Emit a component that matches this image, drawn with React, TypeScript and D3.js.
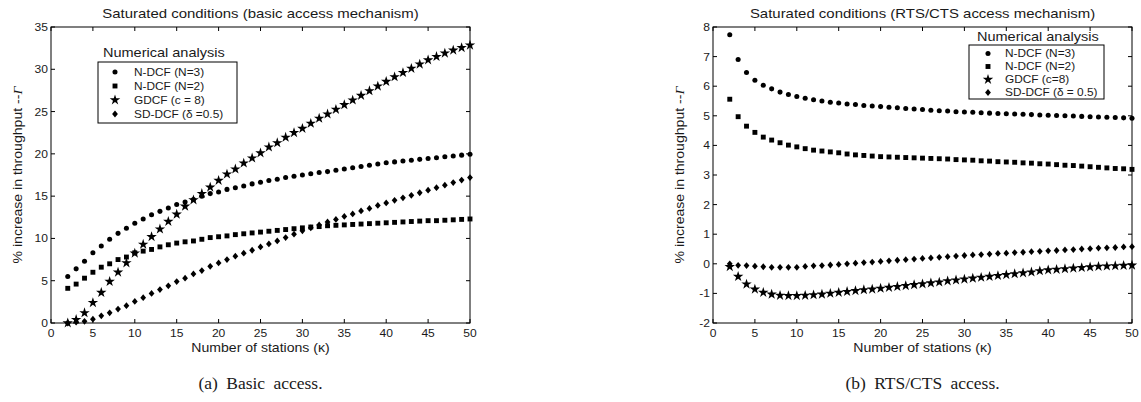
import React from "react";
import * as d3 from "d3";

const stations = [2, 3, 4, 5, 6, 7, 8, 9, 10, 11, 12, 13, 14, 15, 16, 17, 18, 19, 20, 21, 22, 23, 24, 25, 26, 27, 28, 29, 30, 31, 32, 33, 34, 35, 36, 37, 38, 39, 40, 41, 42, 43, 44, 45, 46, 47, 48, 49, 50];

const basicN3 = [5.5, 6.4, 7.3, 8.3, 9.1, 9.9, 10.6, 11.2, 11.8, 12.3, 12.8, 13.2, 13.6, 14.0, 14.3, 14.6, 15.0, 15.3, 15.5, 15.8, 16.0, 16.2, 16.45, 16.65, 16.85, 17.0, 17.2, 17.35, 17.5, 17.65, 17.8, 17.9, 18.05, 18.2, 18.35, 18.5, 18.65, 18.8, 18.95, 19.05, 19.15, 19.25, 19.35, 19.45, 19.55, 19.65, 19.75, 19.85, 19.95];
const basicN2 = [4.1, 4.6, 5.3, 6.0, 6.6, 7.0, 7.5, 7.8, 8.3, 8.5, 8.7, 9.0, 9.25, 9.45, 9.6, 9.7, 9.9, 10.1, 10.2, 10.3, 10.45, 10.55, 10.65, 10.75, 10.85, 10.95, 11.05, 11.15, 11.25, 11.35, 11.4, 11.5, 11.55, 11.6, 11.65, 11.7, 11.75, 11.8, 11.85, 11.9, 11.95, 12.0, 12.05, 12.1, 12.1, 12.15, 12.2, 12.25, 12.3];
const basicGDCF = [0.0, 0.4, 1.2, 2.4, 3.6, 4.9, 6.0, 7.1, 8.25, 9.3, 10.2, 11.1, 12.0, 12.85, 13.8, 14.55, 15.3, 16.05, 16.85, 17.6, 18.2, 18.9, 19.5, 20.1, 20.8, 21.3, 21.95, 22.5, 23.0, 23.6, 24.2, 24.7, 25.25, 25.8, 26.35, 26.9, 27.45, 28.0, 28.55, 29.1, 29.6, 30.1, 30.6, 31.1, 31.5, 31.9, 32.25, 32.55, 32.85];
const basicSD = [0.0, 0.1, 0.2, 0.45, 0.85, 1.2, 1.65, 2.05, 2.55, 3.0, 3.5, 3.95, 4.4, 4.9, 5.3, 5.8, 6.2, 6.7, 7.1, 7.5, 7.9, 8.25, 8.6, 9.0, 9.35, 9.7, 10.1, 10.5, 10.9, 11.25, 11.6, 11.95, 12.25, 12.6, 12.9, 13.25, 13.55, 13.9, 14.2, 14.5, 14.8, 15.1, 15.4, 15.7, 16.0, 16.3, 16.6, 16.9, 17.2];

const rtsN3 = [7.74, 6.9, 6.46, 6.2, 6.03, 5.91, 5.8, 5.72, 5.65, 5.59, 5.54, 5.5, 5.46, 5.43, 5.4, 5.38, 5.35, 5.33, 5.31, 5.29, 5.27, 5.25, 5.23, 5.21, 5.19, 5.17, 5.16, 5.14, 5.13, 5.12, 5.1, 5.09, 5.08, 5.07, 5.06, 5.05, 5.04, 5.03, 5.02, 5.01, 5.0, 4.99, 4.98, 4.97, 4.96, 4.95, 4.94, 4.93, 4.92];
const rtsN2 = [5.56, 4.97, 4.65, 4.44, 4.28, 4.18, 4.09, 4.01, 3.95, 3.89, 3.84, 3.81, 3.78, 3.75, 3.71, 3.68, 3.66, 3.64, 3.62, 3.61, 3.6, 3.59, 3.58, 3.57, 3.56, 3.55, 3.54, 3.52, 3.51, 3.5, 3.48, 3.47, 3.45, 3.44, 3.43, 3.41, 3.4, 3.38, 3.37, 3.35, 3.33, 3.32, 3.3, 3.28, 3.26, 3.24, 3.22, 3.21, 3.19];
const rtsGDCF = [-0.1, -0.43, -0.69, -0.86, -0.97, -1.03, -1.07, -1.08, -1.08, -1.07, -1.05, -1.03, -1.0, -0.97, -0.94, -0.91, -0.88, -0.86, -0.83, -0.8, -0.77, -0.74, -0.71, -0.68, -0.65, -0.62, -0.58, -0.55, -0.52, -0.49, -0.46, -0.43, -0.4, -0.37, -0.34, -0.31, -0.28, -0.24, -0.21, -0.19, -0.17, -0.15, -0.13, -0.11, -0.09, -0.08, -0.07, -0.06, -0.05];
const rtsSD = [0.0, -0.05, -0.06, -0.08, -0.1, -0.12, -0.12, -0.12, -0.12, -0.09, -0.07, -0.06, -0.04, -0.02, 0.0, 0.02, 0.04, 0.06, 0.08, 0.1, 0.12, 0.14, 0.16, 0.18, 0.2, 0.22, 0.24, 0.26, 0.28, 0.3, 0.31, 0.33, 0.35, 0.36, 0.38, 0.39, 0.41, 0.42, 0.44, 0.45, 0.47, 0.48, 0.5, 0.51, 0.53, 0.54, 0.55, 0.57, 0.58];

const xTicks = [0, 5, 10, 15, 20, 25, 30, 35, 40, 45, 50];
const basicYTicks = [0, 5, 10, 15, 20, 25, 30, 35];
const rtsYTicks = [-2, -1, 0, 1, 2, 3, 4, 5, 6, 7, 8];

const basicLegend = ["N-DCF (N=3)", "N-DCF (N=2)", "GDCF (c = 8)", "SD-DCF (\u03b4 =0.5)"];
const rtsLegend = ["N-DCF (N=3)", "N-DCF (N=2)", "GDCF (c=8)", "SD-DCF (\u03b4 = 0.5)"];

const SANS = "'Liberation Sans', Arial, Helvetica, sans-serif";
const SERIF = "'Liberation Serif', 'Times New Roman', serif";
const TXT = "#1a1a1a";

const diamond = {
  draw(ctx: any, size: number) {
    const h = Math.sqrt(size) * 0.62;
    const w = h * 0.85;
    ctx.moveTo(0, -h);
    ctx.lineTo(w, 0);
    ctx.lineTo(0, h);
    ctx.lineTo(-w, 0);
    ctx.closePath();
  },
};

const markerPaths = [
  d3.symbol().type(d3.symbolCircle).size(20)()!,
  d3.symbol().type(d3.symbolSquare).size(24)()!,
  d3.symbol().type(d3.symbolStar).size(34)()!,
  d3.symbol().type(diamond as any).size(30)()!,
];

function T(props: any) {
  const { x, y, fs, anchor = "start", sx = 1.1, rot, family = SANS, children, ws } = props;
  const tr = `translate(${x},${y})${rot ? ` rotate(${rot})` : ""} scale(${sx},1)`;
  return (
    <text transform={tr} fontSize={fs} textAnchor={anchor} fontFamily={family} fill={TXT} style={ws ? { wordSpacing: ws } : undefined}>
      {children}
    </text>
  );
}

function Panel(props: any) {
  const { left, right, top, bottom, yDomain, yTicks, series, title, legend, legendBox, caption, ylabelX } = props;
  const x = d3.scaleLinear().domain([0, 50]).range([left, right]);
  const y = d3.scaleLinear().domain(yDomain).range([bottom, top]);
  const tl = 4;
  const cx = (left + right) / 2;
  return (
    <g>
      <T x={cx} y={18} fs={13.6} anchor="middle">{title}</T>
      {series.map((s: number[], si: number) => (
        <g key={si}>
          {s.map((v, i) => (
            <path key={i} d={markerPaths[si]} transform={`translate(${x(stations[i])},${y(v)})`} fill="#000" />
          ))}
        </g>
      ))}
      <rect x={left} y={top} width={right - left} height={bottom - top} fill="none" stroke="#000" strokeWidth={1} />
      {xTicks.map((t) => (
        <g key={"x" + t}>
          <line x1={x(t)} x2={x(t)} y1={bottom} y2={bottom - tl} stroke="#000" />
          <line x1={x(t)} x2={x(t)} y1={top} y2={top + tl} stroke="#000" />
          <T x={x(t)} y={337} fs={10.5} sx={1.15} anchor="middle">{t}</T>
        </g>
      ))}
      {yTicks.map((t: number) => (
        <g key={"y" + t}>
          <line x1={left} x2={left + tl} y1={y(t)} y2={y(t)} stroke="#000" />
          <line x1={right} x2={right - tl} y1={y(t)} y2={y(t)} stroke="#000" />
          <T x={left - 3} y={y(t) + 4} fs={10.5} sx={1.15} anchor="end">{t}</T>
        </g>
      ))}
      <T x={cx} y={352} fs={12.8} anchor="middle">Number of stations ({"\u03ba"})</T>
      <T x={ylabelX} y={(top + bottom) / 2} fs={12.8} anchor="middle" rot={-90}>
        % increase in throughput --<tspan fontFamily={SERIF} fontStyle="italic">{"\u0393"}</tspan>
      </T>
      <T x={legendBox.tx} y={legendBox.ty} fs={13.2}>Numerical analysis</T>
      <rect x={legendBox.x} y={legendBox.y} width={legendBox.w} height={legendBox.h} fill="#fff" stroke="#000" strokeWidth={1} />
      {legend.map((lab: string, i: number) => {
        const ry = legendBox.r0 + i * legendBox.dr;
        return (
          <g key={lab}>
            <path d={markerPaths[i]} transform={`translate(${legendBox.mx},${ry})`} fill="#000" />
            <T x={legendBox.lx} y={ry + 3.7} fs={10.4} sx={1.14}>{lab}</T>
          </g>
        );
      })}
      <T x={cx} y={389} fs={17.5} sx={1} anchor="middle" family={SERIF} ws="4px">{caption}</T>
    </g>
  );
}

export default function App() {
  return (
    <svg width={1141} height={402} style={{ position: "absolute", left: 0, top: 0, background: "#fff" }}>
      <rect x={0} y={0} width={1141} height={402} fill="#fff" />
      <Panel
        left={51}
        right={470}
        top={27}
        bottom={323}
        yDomain={[0, 35]}
        yTicks={basicYTicks}
        series={[basicN3, basicN2, basicGDCF, basicSD]}
        title="Saturated conditions (basic access mechanism)"
        legend={basicLegend}
        legendBox={{ tx: 103, ty: 57, x: 98, y: 62, w: 139, h: 61, mx: 115, lx: 134, r0: 72, dr: 14 }}
        caption="(a) Basic access."
        ylabelX={22}
      />
      <Panel
        left={713}
        right={1132}
        top={27}
        bottom={323}
        yDomain={[-2, 8]}
        yTicks={rtsYTicks}
        series={[rtsN3, rtsN2, rtsGDCF, rtsSD]}
        title="Saturated conditions (RTS/CTS access mechanism)"
        legend={rtsLegend}
        legendBox={{ tx: 977, ty: 41, x: 969, y: 45, w: 135, h: 54, mx: 988, lx: 1005, r0: 53.5, dr: 13 }}
        caption="(b) RTS/CTS access."
        ylabelX={684}
      />
    </svg>
  );
}
